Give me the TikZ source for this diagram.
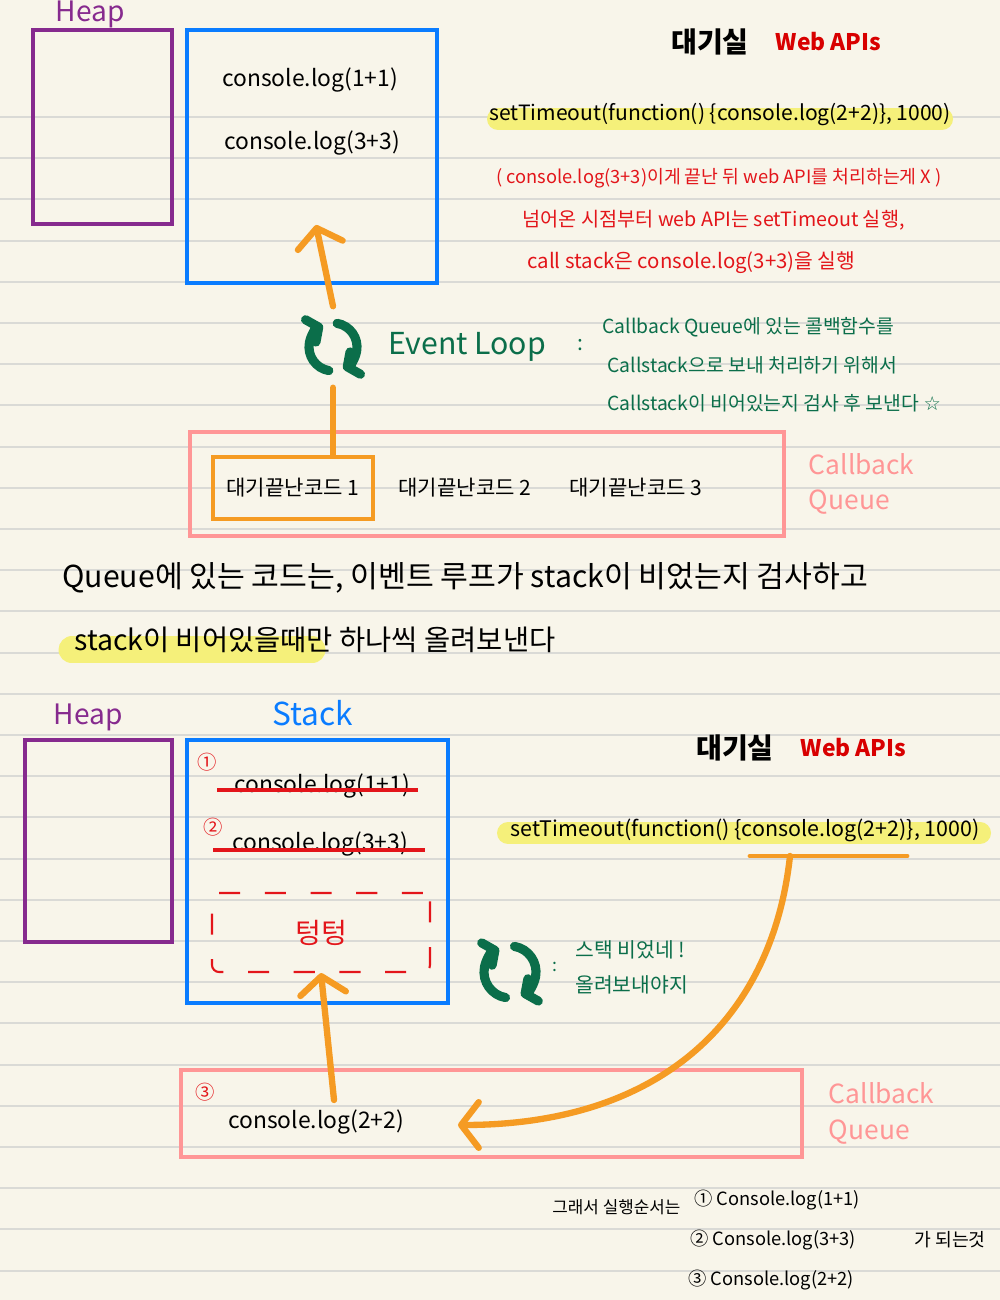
\documentclass[tikz,border=0pt]{standalone}
\usepackage{fontspec}
\setmainfont{Noto Sans CJK KR}
\newfontfamily\symfont{DejaVu Sans}
\usetikzlibrary{positioning,arrows.meta}

\definecolor{paper}{HTML}{F8F5EA}
\definecolor{ruling}{HTML}{DADAD6}
\definecolor{heapc}{HTML}{862A8E}
\definecolor{stackc}{HTML}{0A7CFF}
\definecolor{flowc}{HTML}{F59B23}
\definecolor{queuec}{HTML}{FF9696}
\definecolor{notec}{HTML}{E3151A}
\definecolor{webc}{HTML}{D80000}
\definecolor{loopc}{HTML}{0B6E4A}
\definecolor{markc}{HTML}{F5F07A}

\newcommand\fsz[1]{\fontsize{#1}{#1}\selectfont}

\begin{document}
\begin{tikzpicture}[font=\fsz{6.5},
  box/.style={draw, line width=1.4pt, inner sep=0pt},
  heapbox/.style={box, draw=heapc},
  stackbox/.style={box, draw=stackc},
  queuebox/.style={box, draw=queuec},
  flow/.style={draw=flowc, line width=1.8pt, line cap=round, -{Straight Barb[length=5pt,width=13pt,round]}},
  loopy/.style={draw=loopc, line width=2.6pt, line cap=round, -{Straight Barb[length=2.5pt,width=7pt,round]}},
  hilite/.style={draw=markc, line width=#1, line cap=round}, hilite/.default=0.22cm,
  rednote/.style={text=notec, font=\fsz{5.2}, anchor=west},
  greennote/.style={text=loopc, font=\fsz{5.5}, anchor=west},
  blacknote/.style={anchor=west},
  sumnote/.style={font=\fsz{5.2}, anchor=west},
  roomtitle/.style={font=\fsz{8}\bfseries},
  webtitle/.style={text=webc, font=\fsz{6.5}\bfseries},
  qlabel/.style={text=queuec, font=\fontsize{7.5}{10}\selectfont, align=left},
  redmark/.style={text=notec, font=\fsz{5.5}},
  strike/.style={draw=notec, line width=1pt},
  loopnode/.style={circle, minimum size=0.8cm, inner sep=0pt},
]
  \useasboundingbox (0,0) rectangle (10,13);
  \fill[paper] (0,0) rectangle (10,13);
  \foreach \k in {0,...,28}
    \draw[draw=ruling, line width=0.6pt] (0,{11.83-0.412*\k}) -- (10,{11.83-0.412*\k});

  % top half
  \node[text=heapc, font=\fsz{8}] (heapTopLbl) at (0.90,12.86) {Heap};
  \node[heapbox, minimum width=1.39cm, minimum height=1.94cm] (heapTop) at (1.025,11.73) {};
  \node[stackbox, minimum width=2.50cm, minimum height=2.53cm] (stackTop) at (3.12,11.435) {};
  \node (log1Top) at (3.10,12.20) {console.log(1+1)};
  \node (log3Top) at (3.12,11.57) {console.log(3+3)};

  \node[roomtitle] (roomTop) at (7.10,12.58) {대기실};
  \node[webtitle, right=0.02 of roomTop] (webTop) {Web APIs};
  \draw[hilite] (4.98,11.81) -- (9.42,11.81);
  \node[font=\fsz{6}] (timerTop) at (7.20,11.85) {setTimeout(function() \{console.log(2+2)\}, 1000)};
  \node[rednote] (noteA) at (4.84,11.22) {( console.log(3+3)이게 끝난 뒤 web API를 처리하는게 X )};
  \node[rednote, font=\fsz{5.6}] (noteB) at (5.10,10.80) {넘어온 시점부터 web API는 setTimeout 실행,};
  \node[rednote, font=\fsz{5.8}] (noteC) at (5.15,10.37) {call stack은 console.log(3+3)을 실행};

  \node[loopnode] (loopA) at (3.33,9.53) {};
  \draw[loopy] ([shift={(260:0.24)}]loopA.center) arc[start angle=260, end angle=115, radius=0.24];
  \draw[loopy] ([shift={(80:0.24)}]loopA.center) arc[start angle=80, end angle=-65, radius=0.24];
  \node[right=0.02 of loopA, text=loopc, font=\fsz{8.6}] (loopLbl) {Event Loop};
  \node[text=loopc, font=\fsz{6}] (loopColon) at (5.80,9.55) {:};
  \node[greennote] (greenA) at (5.90,9.73) {Callback Queue에 있는 콜백함수를};
  \node[greennote] (greenB) at (5.95,9.35) {Callstack으로 보내 처리하기 위해서};
  \node[greennote] (greenC) at (5.95,8.97) {Callstack이 비어있는지 검사 후 보낸다 {\symfont ☆}};

  \node[queuebox, minimum width=5.94cm, minimum height=1.04cm] (queueTop) at (4.87,8.16) {};
  \node[box, draw=flowc, minimum width=1.60cm, minimum height=0.62cm, font=\fsz{6}] (wait1) at (2.93,8.12) {대기끝난코드 1};
  \node[font=\fsz{6}] (wait2) at (4.65,8.12) {대기끝난코드 2};
  \node[font=\fsz{6}] (wait3) at (6.36,8.12) {대기끝난코드 3};
  \node[qlabel, right=0.1 of queueTop] (queueTopLbl) {Callback\\Queue};

  \coordinate (stackIn) at (3.16,10.75);
  \draw[flow] (loopA.north) -- (stackIn);
  \draw[draw=flowc, line width=1.8pt, line cap=round] (loopA.south) -- (loopA.south |- wait1.north);

  % middle text
  \draw[hilite=0.27cm] (0.72,6.50) -- (3.12,6.50);
  \node[blacknote, font=\fsz{8.6}] (midA) at (0.50,7.22) {Queue에 있는 코드는, 이벤트 루프가 stack이 비었는지 검사하고};
  \node[blacknote, font=\fsz{8.1}] (midB) at (0.62,6.60) {stack이 비어있을때만 하나씩 올려보낸다};

  % bottom half
  \node[text=heapc, font=\fsz{8}] (heapBotLbl) at (0.88,5.83) {Heap};
  \node[text=stackc, font=\fsz{9}] (stackBotLbl) at (3.13,5.87) {Stack};
  \node[heapbox, minimum width=1.47cm, minimum height=2.02cm] (heapBot) at (0.985,4.59) {};
  \node[stackbox, minimum width=2.61cm, minimum height=2.63cm] (stackBot) at (3.175,4.285) {};
  \node[redmark] (numA) at (2.07,5.38) {①};
  \node (log1Bot) at (3.22,5.14) {console.log(1+1)};
  \draw[strike] (2.17,5.10) -- (4.18,5.10);
  \node[redmark] (numB) at (2.13,4.73) {②};
  \node (log3Bot) at (3.20,4.56) {console.log(3+3)};
  \draw[strike] (2.13,4.50) -- (4.25,4.50);
  \node[draw=notec, dashed, dash pattern=on 6pt off 7pt, line width=0.6pt, rounded corners=2pt,
        minimum width=2.18cm, minimum height=0.79cm, text=notec, font=\fsz{8}] (emptyBox) at (3.21,3.675) {텅텅};

  \node[roomtitle] (roomBot) at (7.35,5.52) {대기실};
  \node[webtitle, right=0.02 of roomBot] (webBot) {Web APIs};
  \draw[hilite] (5.08,4.67) -- (9.80,4.67);
  \node[font=\fsz{6.1}] (timerBot) at (7.45,4.70) {setTimeout(function() \{console.log(2+2)\}, 1000)};
  \coordinate (cbLeft) at (7.50,4.44);
  \coordinate (cbRight) at (9.07,4.44);
  \draw[draw=flowc, line width=1.4pt, line cap=round] (cbLeft) -- (cbRight);

  \node[loopnode] (loopB) at (5.10,3.28) {};
  \draw[loopy] ([shift={(260:0.26)}]loopB.center) arc[start angle=260, end angle=115, radius=0.26];
  \draw[loopy] ([shift={(80:0.26)}]loopB.center) arc[start angle=80, end angle=-65, radius=0.26];
  \node[text=loopc, font=\fsz{5}] (loopColonB) at (5.55,3.33) {:};
  \node[greennote, font=\fsz{5.8}] (greenD) at (5.63,3.50) {스택 비었네 !};
  \node[greennote, font=\fsz{5.8}] (greenE) at (5.63,3.15) {올려보내야지};

  \node[queuebox, minimum width=6.21cm, minimum height=0.87cm] (queueBot) at (4.915,1.865) {};
  \node[redmark] (numC) at (2.05,2.08) {③};
  \node (log2Bot) at (3.16,1.78) {console.log(2+2)};
  \node[qlabel, right=0.12 of queueBot] (queueBotLbl) {Callback\\Queue};

  \coordinate (cbFrom) at (7.90,4.44);
  \coordinate (cbTo) at (4.58,1.75);
  \draw[flow] (cbFrom) .. controls (7.72,2.8) and (6.6,1.75) .. (cbTo);
  \coordinate (pushUp) at (3.34,2.00);
  \draw[flow] (pushUp) -- (emptyBox.south);

  % summary
  \node[sumnote, font=\fsz{4.8}] (sumHead) at (5.40,0.93) {그래서 실행순서는};
  \node[sumnote] (sumA) at (6.82,1.00) {① Console.log(1+1)};
  \node[sumnote] (sumB) at (6.78,0.60) {② Console.log(3+3)};
  \node[sumnote] (sumTail) at (9.02,0.60) {가 되는것};
  \node[sumnote] (sumC) at (6.76,0.20) {③ Console.log(2+2)};
\end{tikzpicture}
\end{document}
